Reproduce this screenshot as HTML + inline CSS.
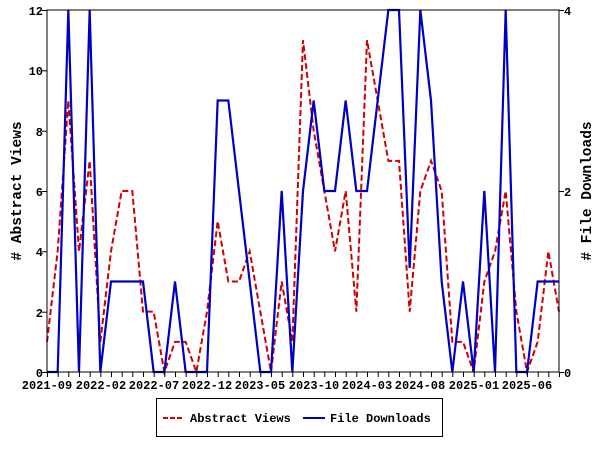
<!DOCTYPE html>
<html><head><style>
html,body{margin:0;padding:0;background:#fff;width:600px;height:450px;overflow:hidden}
text{font-family:"Liberation Mono","DejaVu Sans Mono",monospace;font-weight:bold;font-size:12px;fill:#000}
</style></head><body>
<svg width="600" height="450" viewBox="0 0 600 450" xmlns="http://www.w3.org/2000/svg">
<rect width="600" height="450" fill="#fff"/>
<g transform="translate(47,372) scale(10.667,-30.167)">
<polyline fill="none" stroke="#d00000" stroke-width="2" stroke-dasharray="6,3" vector-effect="non-scaling-stroke"
points="0,1 1,4 2,9 3,4 4,7 5,1 6,4 7,6 8,6 9,2 10,2 11,0 12,1 13,1 14,0 15,2 16,5 17,3 18,3 19,4 20,2 21,0 22,3 23,1 24,11 25,8 26,6 27,4 28,6 29,2 30,11 31,9 32,7 33,7 34,2 35,6 36,7 37,6 38,1 39,1 40,0 41,3 42,4 43,6 44,2 45,0 46,1 47,4 48,2"/>
</g>
<g transform="translate(47,372) scale(10.667,-90.5)">
<polyline fill="none" stroke="#0000c0" stroke-width="2.2" vector-effect="non-scaling-stroke"
points="0,0 1,0 2,4 3,0 4,4 5,0 6,1 7,1 8,1 9,1 10,0 11,0 12,1 13,0 14,0 15,0 16,3 17,3 18,2 19,1 20,0 21,0 22,2 23,0 24,2 25,3 26,2 27,2 28,3 29,2 30,2 31,3 32,4 33,4 34,1.15 35,4 36,3 37,1 38,0 39,1 40,0 41,2 42,0 43,4 44,0 45,0 46,1 47,1 48,1"/>
</g>
<rect x="47" y="10" width="512" height="362" fill="none" stroke="#000" stroke-width="1"/>
<g stroke="#000">
<line x1="42" y1="10.5" x2="47" y2="10.5"/><line x1="42" y1="70.8" x2="47" y2="70.8"/><line x1="42" y1="131.2" x2="47" y2="131.2"/><line x1="42" y1="191.5" x2="47" y2="191.5"/><line x1="42" y1="251.8" x2="47" y2="251.8"/><line x1="42" y1="312.2" x2="47" y2="312.2"/><line x1="42" y1="372.5" x2="47" y2="372.5"/>
<line x1="559" y1="10.5" x2="564" y2="10.5"/><line x1="559" y1="191.5" x2="564" y2="191.5"/><line x1="559" y1="372.5" x2="564" y2="372.5"/>
</g>
<g text-anchor="end">
<text x="43" y="15">12</text><text x="43" y="75">10</text><text x="43" y="136">8</text><text x="43" y="196">6</text><text x="43" y="256">4</text><text x="43" y="317">2</text><text x="43" y="377">0</text>
</g>
<text x="564" y="15">4</text><text x="564" y="196">2</text><text x="564" y="377">0</text>
<g stroke="#000">
<line x1="47.5" y1="372" x2="47.5" y2="377"/><line x1="58.2" y1="372" x2="58.2" y2="377"/><line x1="68.8" y1="372" x2="68.8" y2="377"/><line x1="79.5" y1="372" x2="79.5" y2="377"/><line x1="90.2" y1="372" x2="90.2" y2="377"/><line x1="100.8" y1="372" x2="100.8" y2="377"/><line x1="111.5" y1="372" x2="111.5" y2="377"/><line x1="122.2" y1="372" x2="122.2" y2="377"/><line x1="132.8" y1="372" x2="132.8" y2="377"/><line x1="143.5" y1="372" x2="143.5" y2="377"/><line x1="154.2" y1="372" x2="154.2" y2="377"/><line x1="164.8" y1="372" x2="164.8" y2="377"/><line x1="175.5" y1="372" x2="175.5" y2="377"/><line x1="186.2" y1="372" x2="186.2" y2="377"/><line x1="196.8" y1="372" x2="196.8" y2="377"/><line x1="207.5" y1="372" x2="207.5" y2="377"/><line x1="218.2" y1="372" x2="218.2" y2="377"/><line x1="228.8" y1="372" x2="228.8" y2="377"/><line x1="239.5" y1="372" x2="239.5" y2="377"/><line x1="250.2" y1="372" x2="250.2" y2="377"/><line x1="260.8" y1="372" x2="260.8" y2="377"/><line x1="271.5" y1="372" x2="271.5" y2="377"/><line x1="282.2" y1="372" x2="282.2" y2="377"/><line x1="292.8" y1="372" x2="292.8" y2="377"/><line x1="303.5" y1="372" x2="303.5" y2="377"/><line x1="314.2" y1="372" x2="314.2" y2="377"/><line x1="324.8" y1="372" x2="324.8" y2="377"/><line x1="335.5" y1="372" x2="335.5" y2="377"/><line x1="346.2" y1="372" x2="346.2" y2="377"/><line x1="356.8" y1="372" x2="356.8" y2="377"/><line x1="367.5" y1="372" x2="367.5" y2="377"/><line x1="378.2" y1="372" x2="378.2" y2="377"/><line x1="388.8" y1="372" x2="388.8" y2="377"/><line x1="399.5" y1="372" x2="399.5" y2="377"/><line x1="410.2" y1="372" x2="410.2" y2="377"/><line x1="420.8" y1="372" x2="420.8" y2="377"/><line x1="431.5" y1="372" x2="431.5" y2="377"/><line x1="442.2" y1="372" x2="442.2" y2="377"/><line x1="452.8" y1="372" x2="452.8" y2="377"/><line x1="463.5" y1="372" x2="463.5" y2="377"/><line x1="474.2" y1="372" x2="474.2" y2="377"/><line x1="484.8" y1="372" x2="484.8" y2="377"/><line x1="495.5" y1="372" x2="495.5" y2="377"/><line x1="506.2" y1="372" x2="506.2" y2="377"/><line x1="516.8" y1="372" x2="516.8" y2="377"/><line x1="527.5" y1="372" x2="527.5" y2="377"/><line x1="538.2" y1="372" x2="538.2" y2="377"/><line x1="548.8" y1="372" x2="548.8" y2="377"/><line x1="559.5" y1="372" x2="559.5" y2="377"/>
</g>
<g text-anchor="middle">
<text x="47" y="389">2021-09</text><text x="101" y="389">2022-02</text><text x="154" y="389">2022-07</text><text x="207" y="389">2022-12</text><text x="260" y="389">2023-05</text><text x="314" y="389">2023-10</text><text x="367" y="389">2024-03</text><text x="420" y="389">2024-08</text><text x="474" y="389">2025-01</text><text x="527" y="389">2025-06</text>
</g>
<text transform="translate(21,191) rotate(-90)" text-anchor="middle" style="font-size:14.5px">#  Abstract Views</text>
<text transform="translate(591,191) rotate(-90)" text-anchor="middle" style="font-size:14.5px">#  File Downloads</text>
<rect x="156.5" y="398.5" width="286" height="38" fill="#fff" stroke="#000"/>
<line x1="163" y1="418" x2="184" y2="418" stroke="#d00000" stroke-width="2" stroke-dasharray="5,2"/>
<text x="190" y="422">Abstract Views</text>
<line x1="303" y1="418" x2="325" y2="418" stroke="#0000c0" stroke-width="2"/>
<text x="330" y="422">File Downloads</text>
</svg>
</body></html>
